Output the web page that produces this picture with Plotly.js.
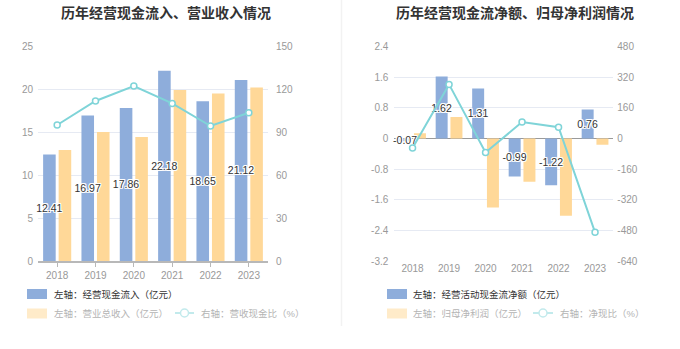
<!DOCTYPE html>
<html>
<head>
<meta charset="utf-8">
<script src="https://cdn.plot.ly/plotly-3.0.1.min.js"></script>
<style>html,body{margin:0;padding:0;background:#fff;}#chart{width:680px;height:349px;}</style>
</head>
<body>
<div id="chart"></div>
<script>
// ---- data ----
const years = ['2018', '2019', '2020', '2021', '2022', '2023'];
// left chart
const cashInflow = [12.41, 16.97, 17.86, 22.18, 18.65, 21.12];     // 经营现金流入（亿元）
const revenue = [12.95, 15.05, 14.47, 19.95, 19.55, 20.25];        // 营业总收入（亿元）
const inflowRatio = [95.2, 112, 122.5, 110.3, 94.5, 103.8];        // 营收现金比（%）
// right chart
const netCash = [-0.07, 1.62, 1.31, -0.99, -1.22, 0.76];           // 经营活动现金流净额（亿元）
const netProfit = [0.14, 0.56, -1.80, -1.13, -2.02, -0.16];        // 归母净利润（亿元）
const netRatio = [-49, 283, -73, 86, 59, -490];                    // 净现比（%）
// tick labels
const leftTicks = [0, 5, 10, 15, 20, 25];
const leftTicks2 = [0, 30, 60, 90, 120, 150];
const rightTicks = [-3.2, -2.4, -1.6, -0.8, 0, 0.8, 1.6, 2.4];
const rightTicks2 = [-640, -480, -320, -160, 0, 160, 320, 480];
const titles = ['历年经营现金流入、营业收入情况', '历年经营现金流净额、归母净利润情况'];

// ---- style ----
const W = 680, H = 349;
const BLUE = '#8eaddb', YELLOW = '#ffd898', TEAL = '#7fd4d8';
const FONT = '"Liberation Sans", "Noto Sans CJK SC", sans-serif';
const px = x => x / W, py = y => 1 - y / H;
const fmt = v => String(v);
const labelFont = {size: 10.5, color: '#333', family: FONT,
  shadow: '1px 0 0 #fff, -1px 0 0 #fff, 0 1px 0 #fff, 0 -1px 0 #fff, 1px 1px 0 #fff, -1px -1px 0 #fff, 1px -1px 0 #fff, -1px 1px 0 #fff'};

function barTraces(xa, ya, ya2, blueVals, yellowVals, lineVals, tag) {
  return [
    {type: 'bar', x: years, y: blueVals, xaxis: xa, yaxis: ya, offsetgroup: tag + 'a',
     marker: {color: BLUE}, showlegend: false, hoverinfo: 'skip'},
    {type: 'bar', x: years, y: yellowVals, xaxis: xa, yaxis: ya, offsetgroup: tag + 'b',
     marker: {color: YELLOW}, showlegend: false, hoverinfo: 'skip'},
    {type: 'bar', x: years, y: blueVals, xaxis: xa, yaxis: ya, offsetgroup: tag + 'a',
     marker: {color: 'rgba(0,0,0,0)'}, showlegend: false, hoverinfo: 'skip',
     text: blueVals.map(v => v.toFixed(2)), textposition: 'inside', insidetextanchor: 'middle',
     constraintext: 'none', textangle: 0, insidetextfont: labelFont, cliponaxis: false},
    {type: 'scatter', mode: 'lines+markers', x: years, y: lineVals, xaxis: xa, yaxis: ya2,
     line: {color: TEAL, width: 2}, marker: {symbol: 'circle', size: 6, color: '#fff', line: {color: TEAL, width: 1.5}},
     showlegend: false, hoverinfo: 'skip', cliponaxis: false}
  ];
}

const data = [
  ...barTraces('x', 'y', 'y2', cashInflow, revenue, inflowRatio, 'l'),
  ...barTraces('x2', 'y3', 'y4', netCash, netProfit, netRatio, 'r')
];

const tickFont = {size: 10, color: '#999', family: FONT};
const yDom = [py(261), py(46.7)];
const xBase = {type: 'category', showgrid: false, zeroline: false, tickfont: tickFont, fixedrange: true};
const yBase = {tickfont: tickFont, zeroline: false, showline: false, fixedrange: true, ticks: ''};

const layout = {
  width: W, height: H,
  margin: {l: 0, r: 0, t: 0, b: 0},
  paper_bgcolor: '#fff', plot_bgcolor: 'rgba(0,0,0,0)',
  barmode: 'group', bargap: 0.19, bargroupgap: 0.19,
  showlegend: false,
  font: {family: FONT},
  xaxis: Object.assign({}, xBase, {domain: [px(38), px(268)], anchor: 'y', showline: true, linecolor: '#b8b8b8', linewidth: 1.5,
    ticks: 'outside', ticklen: 4, tickcolor: '#b8b8b8', tickwidth: 1}),
  yaxis: Object.assign({}, yBase, {domain: yDom, range: [0, 25], tickvals: leftTicks, ticktext: leftTicks.map(fmt),
    showgrid: true, gridcolor: '#e6eaf3', gridwidth: 1, ticklabelstandoff: 4}),
  yaxis2: Object.assign({}, yBase, {overlaying: 'y', side: 'right', anchor: 'x', range: [0, 150], tickvals: leftTicks2,
    ticktext: leftTicks2.map(fmt), showgrid: false, ticklabelstandoff: 7}),
  xaxis2: Object.assign({}, xBase, {domain: [px(394.3), px(613.3)], anchor: 'y3', showline: false, ticks: ''}),
  yaxis3: Object.assign({}, yBase, {domain: yDom, range: [-3.2, 2.4], tickvals: rightTicks, ticktext: rightTicks.map(fmt),
    showgrid: true, gridcolor: '#e6eaf3', gridwidth: 1, zeroline: true, zerolinecolor: '#9a9a9a', zerolinewidth: 1,
    anchor: 'x2', ticklabelstandoff: 5}),
  yaxis4: Object.assign({}, yBase, {overlaying: 'y3', side: 'right', anchor: 'x2', range: [-640, 480], tickvals: rightTicks2,
    ticktext: rightTicks2.map(fmt), showgrid: false, ticklabelstandoff: 3}),
  shapes: [
    // panel divider
    {type: 'line', xref: 'paper', yref: 'paper', x0: px(341.5), x1: px(341.5), y0: py(0), y1: py(326),
     line: {color: '#f2f2f2', width: 1.5}},
    // legend swatches (left)
    {type: 'rect', xref: 'paper', yref: 'paper', x0: px(27), x1: px(47), y0: py(299), y1: py(289), fillcolor: BLUE, line: {width: 0}},
    {type: 'rect', xref: 'paper', yref: 'paper', x0: px(27), x1: px(47), y0: py(318.5), y1: py(308.5), fillcolor: '#ffebc9', line: {width: 0}},
    {type: 'line', xref: 'paper', yref: 'paper', x0: px(175), x1: px(194), y0: py(313), y1: py(313), line: {color: '#c2eaec', width: 2}},
    {type: 'circle', xref: 'paper', yref: 'paper', x0: px(180.5), x1: px(188.5), y0: py(317), y1: py(309), fillcolor: '#fff', line: {color: '#c2eaec', width: 1.5}},
    // legend swatches (right)
    {type: 'rect', xref: 'paper', yref: 'paper', x0: px(387), x1: px(407), y0: py(299), y1: py(289), fillcolor: BLUE, line: {width: 0}},
    {type: 'rect', xref: 'paper', yref: 'paper', x0: px(387), x1: px(407), y0: py(318.5), y1: py(308.5), fillcolor: '#ffebc9', line: {width: 0}},
    {type: 'line', xref: 'paper', yref: 'paper', x0: px(533), x1: px(553), y0: py(313), y1: py(313), line: {color: '#c2eaec', width: 2}},
    {type: 'circle', xref: 'paper', yref: 'paper', x0: px(539), x1: px(547), y0: py(317), y1: py(309), fillcolor: '#fff', line: {color: '#c2eaec', width: 1.5}}
  ],
  annotations: [
    {text: '<b>' + titles[0] + '</b>', xref: 'paper', yref: 'paper', x: px(165.5), y: py(13), xanchor: 'center', yanchor: 'middle',
     showarrow: false, font: {size: 14, color: '#333', family: FONT}},
    {text: '<b>' + titles[1] + '</b>', xref: 'paper', yref: 'paper', x: px(515), y: py(13), xanchor: 'center', yanchor: 'middle',
     showarrow: false, font: {size: 14, color: '#333', family: FONT}},
    {text: '左轴：经营现金流入（亿元）', xref: 'paper', yref: 'paper', x: px(51.5), y: py(294), xanchor: 'left', yanchor: 'middle',
     showarrow: false, font: {size: 9.5, color: '#333', family: FONT}},
    {text: '左轴：营业总收入（亿元）', xref: 'paper', yref: 'paper', x: px(51.5), y: py(313), xanchor: 'left', yanchor: 'middle',
     showarrow: false, font: {size: 9.5, color: '#b4b4b4', family: FONT}},
    {text: '右轴：营收现金比（%）', xref: 'paper', yref: 'paper', x: px(199), y: py(313), xanchor: 'left', yanchor: 'middle',
     showarrow: false, font: {size: 9.5, color: '#b4b4b4', family: FONT}},
    {text: '左轴：经营活动现金流净额（亿元）', xref: 'paper', yref: 'paper', x: px(410.5), y: py(294), xanchor: 'left', yanchor: 'middle',
     showarrow: false, font: {size: 9.5, color: '#333', family: FONT}},
    {text: '左轴：归母净利润（亿元）', xref: 'paper', yref: 'paper', x: px(410.5), y: py(313), xanchor: 'left', yanchor: 'middle',
     showarrow: false, font: {size: 9.5, color: '#b4b4b4', family: FONT}},
    {text: '右轴：净现比（%）', xref: 'paper', yref: 'paper', x: px(558), y: py(313), xanchor: 'left', yanchor: 'middle',
     showarrow: false, font: {size: 9.5, color: '#b4b4b4', family: FONT}}
  ]
};

Plotly.newPlot('chart', data, layout, {staticPlot: true, displayModeBar: false});
</script>
</body>
</html>
